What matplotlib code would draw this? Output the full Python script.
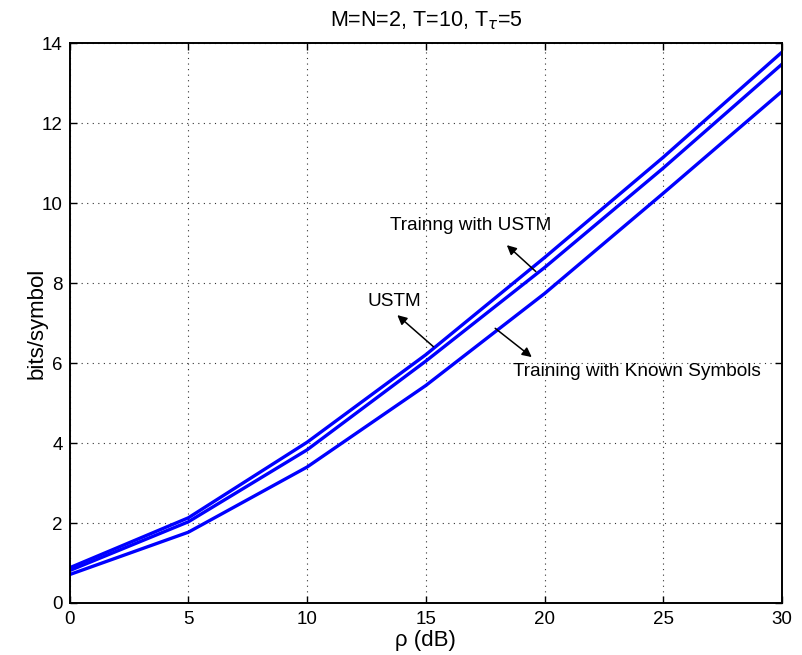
import numpy as np
import matplotlib
matplotlib.use("Agg")
import matplotlib.pyplot as plt

plt.rcParams['font.family'] = ['Liberation Sans', 'DejaVu Sans']

# data
snr_db = [0, 5, 10, 15, 20, 25, 30]
ustm = [0.88, 2.13, 4.02, 6.21, 8.64, 11.15, 13.78]
training_ustm = [0.81, 2.03, 3.83, 6.05, 8.39, 10.88, 13.48]
training_known = [0.71, 1.77, 3.40, 5.44, 7.74, 10.25, 12.80]

xticks = [0, 5, 10, 15, 20, 25, 30]
yticks = [0, 2, 4, 6, 8, 10, 12, 14]

fig = plt.figure(figsize=(8.03, 6.55), dpi=100)
ax = fig.add_axes([0.0866, 0.0794, 0.974 - 0.0866, 0.934 - 0.0794])

for ys in (ustm, training_ustm, training_known):
    ax.plot(snr_db, ys, color=(0, 0, 1), linewidth=2.4)

ax.set_xlim(0, 30)
ax.set_ylim(0, 14)
ax.set_xticks(xticks)
ax.set_yticks(yticks)
ax.tick_params(direction='in', top=True, right=True, length=5,
               width=1, labelsize=13.5)
ax.tick_params(axis='x', pad=6)
ax.tick_params(axis='y', pad=5)
for s in ax.spines.values():
    s.set_linewidth(1.4)

ax.grid(True, linestyle=(0, (1, 4)), color='#333333', linewidth=0.8)

ax.set_xlabel('ρ (dB)', fontsize=16, labelpad=1)
ax.set_ylabel('bits/symbol', fontsize=16, labelpad=-4)
ax.set_title(r'M=N=2, T=10, T$_\tau$=5', fontsize=15.5, pad=12)

arrow = dict(arrowstyle='-|>', color='black', lw=1.1,
             mutation_scale=14, shrinkA=0, shrinkB=0)

ax.annotate('', xy=(18.41, 8.95), xytext=(19.63, 8.29), arrowprops=arrow)
ax.text(13.49, 9.43, 'Trainng with USTM', fontsize=13.7, va='center', ha='left')

ax.annotate('', xy=(13.80, 7.20), xytext=(15.32, 6.41), arrowprops=arrow)
ax.text(12.53, 7.54, 'USTM', fontsize=13.7, va='center', ha='left')

ax.annotate('', xy=(19.46, 6.15), xytext=(17.92, 6.87), arrowprops=arrow)
ax.text(18.69, 5.79, 'Training with Known Symbols', fontsize=13.7,
        va='center', ha='left')

fig.savefig('out.png', dpi=100)
